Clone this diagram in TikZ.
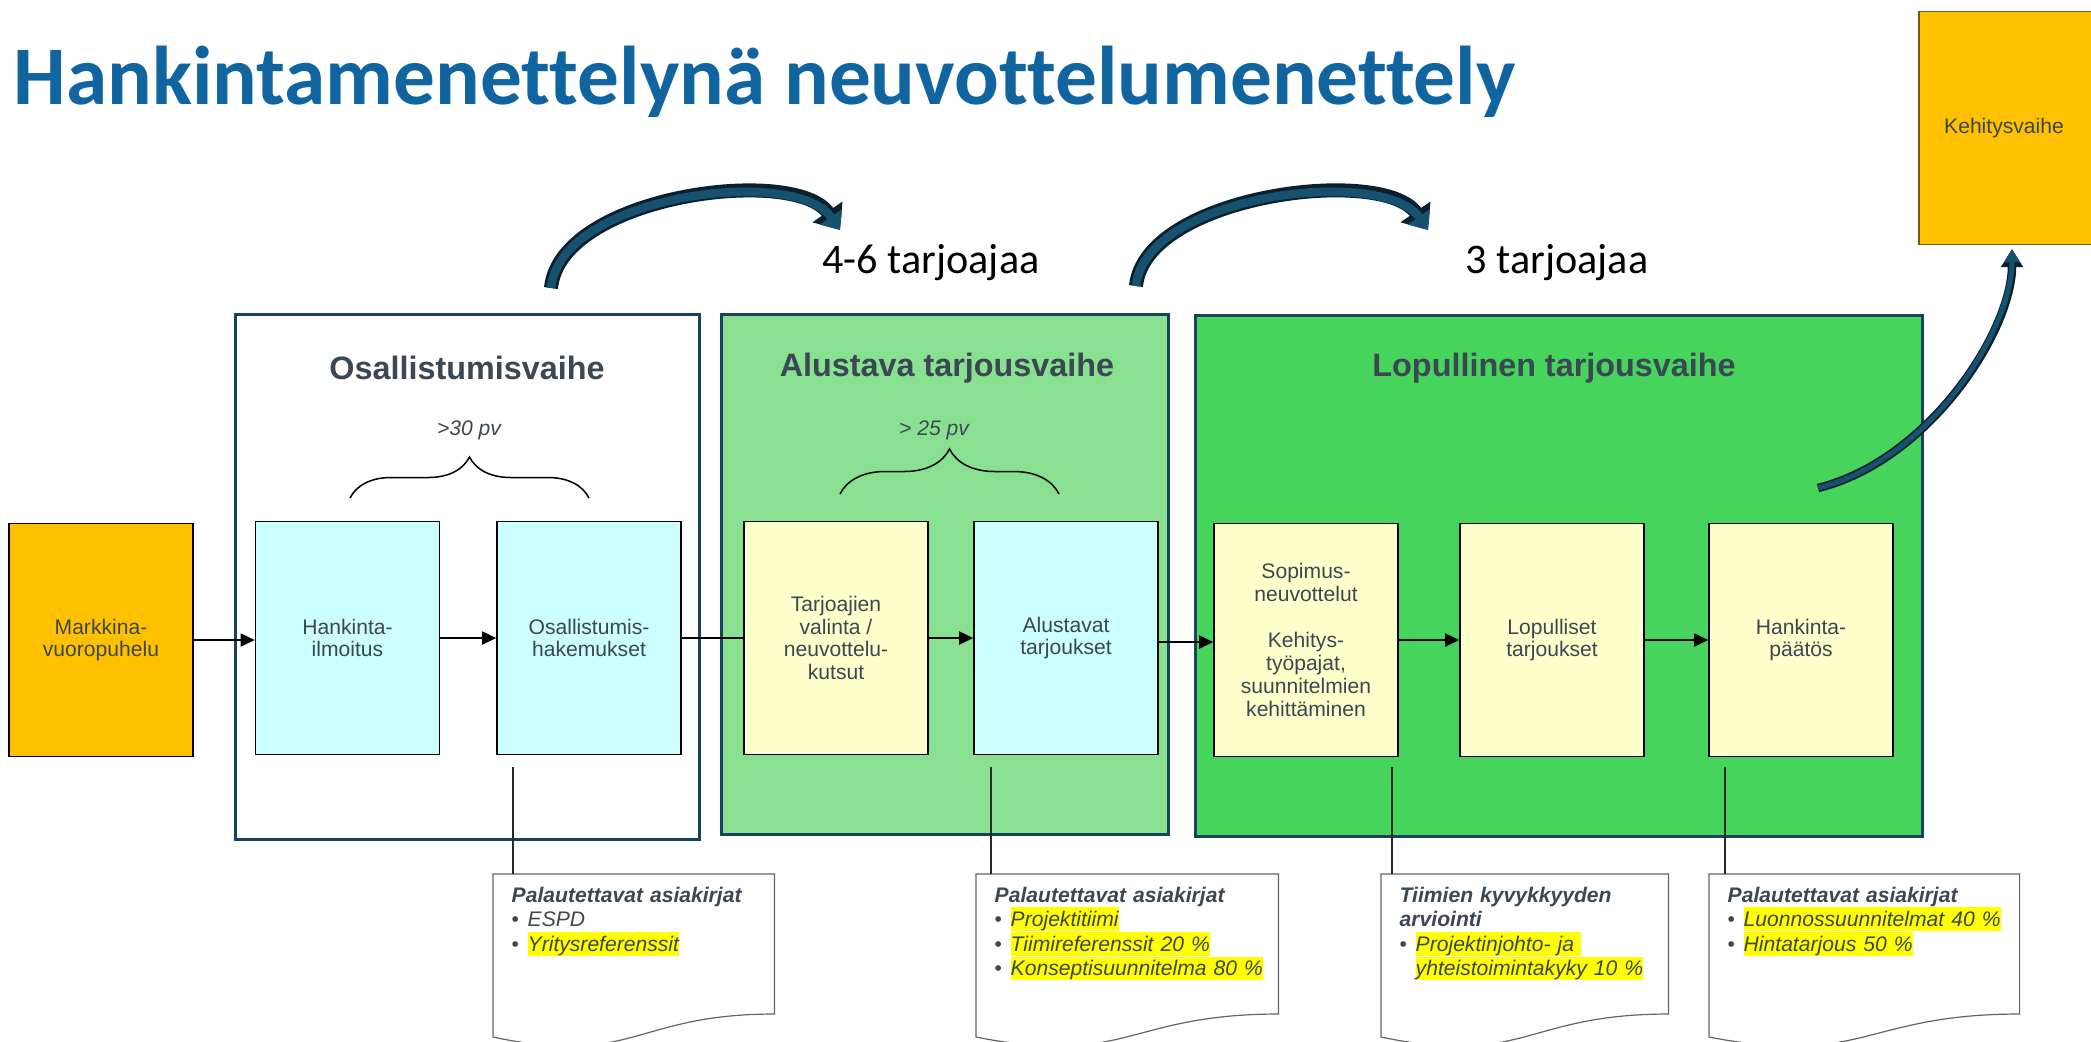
\documentclass[tikz,border=0pt]{standalone}
\usepackage{fontspec}
\setmainfont{Liberation Sans}
\newfontfamily\titlefont[Ligatures=NoCommon]{Carlito}
\usetikzlibrary{arrows.meta, positioning, calc, decorations.pathreplacing}

\definecolor{titleblue}{RGB}{16,100,160}
\definecolor{slate}{RGB}{59,71,82}
\definecolor{framenavy}{RGB}{24,66,94}
\definecolor{paleblue}{RGB}{204,255,255}
\definecolor{paleyellow}{RGB}{255,255,204}
\definecolor{amber}{RGB}{255,192,0}
\definecolor{amberline}{RGB}{110,90,40}
\definecolor{lightgreen}{RGB}{136,224,144}
\definecolor{midgreen}{RGB}{71,212,92}
\definecolor{arrowfill}{RGB}{22,82,112}
\definecolor{arrowdark}{RGB}{10,32,46}
\definecolor{hlyellow}{RGB}{255,255,0}
\definecolor{leadgray}{RGB}{40,40,40}
\definecolor{docgray}{RGB}{100,100,100}

\newcommand{\hl}[1]{{\setlength{\fboxsep}{0pt}\colorbox{hlyellow}{\rule[-0.21em]{0pt}{1.12em}#1}}}
\newcommand{\docbullet}{\makebox[0.16cm][l]{\upshape\textbullet}}
\newcommand{\docoutline}[1]{%
    \draw[docline] (#1.north west) -- (#1.north east) -- ($(#1.north east)+(0,140)$)
        .. controls ($(#1.north)+(0,140)$) and ($(#1.north)+(0,193)$) .. ($(#1.north west)+(0,163)$) -- cycle;}

\begin{document}
\begin{tikzpicture}[
    x=0.01cm, y=-0.01cm,
    phase/.style={
        rectangle,
        draw=framenavy,
        line width=0.03cm
    },
    stepbox/.style={
        rectangle,
        draw=black,
        line width=0.015cm,
        minimum width=1.84cm,
        minimum height=2.33cm,
        align=center,
        inner sep=0pt,
        text=slate,
        font=\fontsize{6}{6.5}\selectfont
    },
    phasetitle/.style={text=slate, font=\fontsize{9.2}{11}\selectfont\bfseries},
    bracelabel/.style={text=slate, font=\fontsize{6}{7}\selectfont\itshape},
    curlybrace/.style={decorate, decoration={brace, amplitude=#1}, line width=0.015cm},
    flow/.style={line width=0.018cm, -{Triangle[width=0.13cm,length=0.14cm]}},
    flowline/.style={line width=0.018cm},
    leader/.style={draw=leadgray, line width=0.012cm},
    docline/.style={draw=docgray, line width=0.012cm},
    doctext/.style={
        anchor=north west,
        align=left,
        inner xsep=0.18cm,
        inner ysep=0.12cm,
        text=slate,
        font=\fontsize{6}{7}\selectfont\itshape
    },
    bigarrow/.style={
        draw=arrowfill, line width=0.085cm, -{Triangle[width=0.26cm,length=0.16cm]},
        preaction={draw=arrowdark, line width=0.14cm, -{Triangle[width=0.35cm,length=0.22cm]}}
    },
    smallarrow/.style={
        draw=arrowfill, line width=0.05cm, -{Triangle[width=0.15cm,length=0.13cm]},
        preaction={draw=arrowdark, line width=0.085cm, -{Triangle[width=0.21cm,length=0.18cm]}}
    }
]
    \useasboundingbox (0,0) rectangle (2091,1041);

    % Title
    \node[anchor=base west, inner sep=0pt, text=titleblue, font=\titlefont\fontsize{23.7}{28}\selectfont\bfseries] (title) at (13,104) {Hankintamenettelynä neuvottelumenettely};

    % Phase frames
    \node[phase, fill=white, minimum width=4.63cm, minimum height=5.24cm] (osall) at (467.5,577) {};
    \node[phase, fill=lightgreen, minimum width=4.46cm, minimum height=5.19cm] (alust) at (945,574.5) {};
    \node[phase, fill=midgreen, minimum width=7.26cm, minimum height=5.21cm] (lopul) at (1559,576) {};

    \node[phasetitle] (osalltitle) at (467,368) {Osallistumisvaihe};
    \node[phasetitle] (alusttitle) at (947,368) {Alustava tarjousvaihe};
    \node[phasetitle] (lopultitle) at (1554,368) {Lopullinen tarjousvaihe};

    % Steps
    \node[stepbox, fill=amber] (markkina) at (101,640) {Markkina-\\vuoropuhelu};
    \node[stepbox, fill=paleblue] (ilmoitus) at (347.5,638) {Hankinta-\\ilmoitus};
    \node[stepbox, fill=paleblue] (hakemus) at (589,638) {Osallistumis-\\hakemukset};
    \node[stepbox, fill=paleyellow] (kutsut) at (836,638) {Tarjoajien\\valinta /\\neuvottelu-\\kutsut};
    \node[stepbox, fill=paleblue] (alustavat) at (1066,638) {Alustavat\\tarjoukset};
    \node[stepbox, fill=paleyellow] (sopimus) at (1306,640) {Sopimus-\\neuvottelut\\[6.5pt]Kehitys-\\työpajat,\\suunnitelmien\\kehittäminen};
    \node[stepbox, fill=paleyellow] (lopulliset) at (1552,640) {Lopulliset\\tarjoukset};
    \node[stepbox, fill=paleyellow] (paatos) at (1801,640) {Hankinta-\\päätös};
    \node[stepbox, draw=amberline, fill=amber] (kehitys) at (2011,128) {\hspace*{-0.14cm}Kehitysvaihe};

    % Flow arrows
    \draw[flow] (markkina.east) -- (markkina.east -| ilmoitus.west);
    \draw[flow] (ilmoitus.east) -- (hakemus.west);
    \draw[flowline] (hakemus.east) -- (kutsut.west);
    \draw[flow] (kutsut.east) -- (alustavat.west);
    \draw[flow] ([yshift=-0.04cm]alustavat.east) -- ([yshift=-0.04cm]alustavat.east -| sopimus.west);
    \draw[flow] (sopimus.east) -- (lopulliset.west);
    \draw[flow] (lopulliset.east) -- (paatos.west);

    % Braces
    \draw[curlybrace=0.41cm] (350,498) -- (589,498);
    \node[bracelabel] (osallpv) at (469,430) {>30 pv};
    \draw[curlybrace=0.45cm] (840,494) -- (1059,494);
    \node[bracelabel] (alustpv) at (934,430) {> 25 pv};

    % Returned documents
    \node[doctext, text width=2.44cm] (doca) at (493,874) {\textbf{Palautettavat asiakirjat}\\
        \docbullet ESPD\\
        \docbullet\hl{Yritysreferenssit}};
    \node[doctext, text width=2.65cm] (docb) at (976,874) {\textbf{Palautettavat asiakirjat}\\
        \docbullet\hl{Projektitiimi}\\
        \docbullet\hl{Tiimireferenssit 20 \%}\\
        \docbullet\hl{Konseptisuunnitelma 80 \%}};
    \node[doctext, text width=2.50cm] (docc) at (1381,874) {\textbf{Tiimien kyvykkyyden}\\
        \textbf{arviointi}\\
        \docbullet\hl{Projektinjohto- ja\ }\\
        \hspace*{0.16cm}\hl{yhteistoimintakyky 10 \%}};
    \node[doctext, text width=2.73cm] (docd) at (1709,874) {\textbf{Palautettavat asiakirjat}\\
        \docbullet\hl{Luonnossuunnitelmat 40 \%}\\
        \docbullet\hl{Hintatarjous 50 \%}};
    \docoutline{doca}
    \docoutline{docb}
    \docoutline{docc}
    \docoutline{docd}

    \coordinate (leada) at (513,767);
    \coordinate (leadb) at (991,767);
    \coordinate (leadc) at (1392,767);
    \coordinate (leadd) at (1725,767);
    \draw[leader] (leada) -- (leada |- doca.north);
    \draw[leader] (leadb) -- (leadb |- docb.north);
    \draw[leader] (leadc) -- (leadc |- docc.north);
    \draw[leader] (leadd) -- (leadd |- docd.north);

    % Bidder counts
    \node[anchor=base, inner sep=0pt, font=\titlefont\fontsize{12}{14}\selectfont] (bidders46) at (931,273) {4-6 tarjoajaa};
    \node[anchor=base, inner sep=0pt, font=\titlefont\fontsize{12}{14}\selectfont] (bidders3) at (1557,273) {3 tarjoajaa};

    % Curved arrows
    \coordinate (arrAtail) at (551,288);
    \coordinate (arrAtip) at (840,230);
    \coordinate (arrBtail) at (1136,286);
    \coordinate (arrBtip) at (1428,230);
    \coordinate (arrCtail) at (1818,488);
    \coordinate (arrCtip) at (2012,249);
    \draw[bigarrow] (arrAtail) .. controls (560,195) and (795,165) .. (arrAtip);
    \draw[bigarrow] (arrBtail) .. controls (1145,195) and (1383,165) .. (arrBtip);
    \draw[smallarrow] (arrCtail) .. controls (1930,460) and (2012,330) .. (arrCtip);
\end{tikzpicture}
\end{document}
